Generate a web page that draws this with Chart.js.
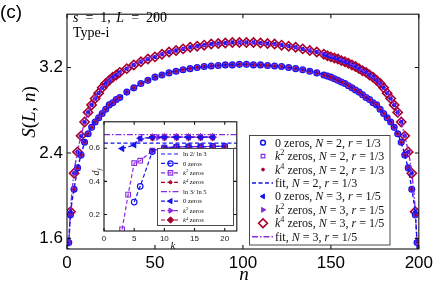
<!DOCTYPE html>
<html>
<head>
<meta charset="utf-8">
<script src="https://cdn.jsdelivr.net/npm/chart.js"></script>
<style>
  html, body { margin: 0; padding: 0; background: #fff; overflow: hidden; }
  #wrap { position: relative; width: 437px; height: 281px; }
  #main { position: absolute; left: 0; top: 0; }
  #inset { position: absolute; left: 80px; top: 113px; }
</style>
</head>
<body>
<div id="wrap">
  <canvas id="main" width="437" height="281"></canvas>
  <canvas id="inset" width="162" height="138"></canvas>
</div>
<script>
// ---- main panel data: S(L, n), L = 200 ----
const xTicks = [0, 50, 100, 150, 200];
const yTicks = [1.6, 2.4, 3.2];

// N = 2, r = 1/3 (lower curve)
const nN2 = [1, 2, 4, 6, 8, 10, 12, 14, 16, 18, 20, 22, 24, 26, 28, 30,
  34, 38, 42, 46, 50, 54, 58, 62, 66, 70, 74, 78, 82, 86, 90, 94, 98, 102, 106, 110, 114, 118, 122, 126, 130, 134, 138, 142, 146,
  148, 150, 152, 154, 156, 158, 160, 162, 164, 166, 168, 170, 172, 174, 176, 178, 180, 182, 184, 186, 188, 190, 192, 194, 196, 198, 199];
const sN2 = [1.56, 1.82, 2.06, 2.26, 2.38, 2.50, 2.58, 2.64, 2.69, 2.73, 2.77, 2.81, 2.85, 2.87, 2.90, 2.92,
  2.97, 3.01, 3.05, 3.08, 3.11, 3.13, 3.15, 3.165, 3.18, 3.19, 3.20, 3.21, 3.215, 3.22, 3.225, 3.225, 3.23, 3.23, 3.225, 3.225, 3.22, 3.215, 3.21, 3.20, 3.19, 3.18, 3.165, 3.15, 3.13,
  3.12, 3.11, 3.095, 3.08, 3.065, 3.05, 3.03, 3.01, 2.99, 2.97, 2.945, 2.92, 2.90, 2.87, 2.85, 2.81, 2.77, 2.73, 2.69, 2.64, 2.58, 2.50, 2.38, 2.26, 2.06, 1.82, 1.56];

// N = 3, r = 1/5 (upper curve)
const nN3 = [2, 4, 6, 8, 10, 12, 14, 16, 18, 20, 22, 24, 26, 28, 30,
  34, 38, 42, 46, 50, 54, 58, 62, 66, 70, 74, 78, 82, 86, 90, 94, 98, 102, 106, 110, 114, 118, 122, 126, 130, 134, 138, 142, 146,
  148, 150, 152, 154, 156, 158, 160, 162, 164, 166, 168, 170, 172, 174, 176, 178, 180, 182, 184, 186, 188, 190, 192, 194, 196, 198];
const sN3 = [1.85, 2.21, 2.41, 2.56, 2.69, 2.78, 2.85, 2.91, 2.96, 3.01, 3.05, 3.08, 3.11, 3.13, 3.155,
  3.19, 3.225, 3.255, 3.28, 3.30, 3.325, 3.345, 3.36, 3.375, 3.39, 3.40, 3.41, 3.42, 3.425, 3.43, 3.435, 3.435, 3.435, 3.435, 3.43, 3.425, 3.42, 3.41, 3.40, 3.39, 3.375, 3.36, 3.345, 3.325,
  3.31, 3.30, 3.29, 3.28, 3.265, 3.255, 3.24, 3.225, 3.21, 3.19, 3.17, 3.155, 3.13, 3.11, 3.08, 3.05, 3.01, 2.96, 2.91, 2.85, 2.78, 2.69, 2.56, 2.41, 2.21, 1.85];

// fitted curves
const fitN = [0.5, 1, 2, 4, 7, 12, 20, 35, 55, 80, 100, 120, 145, 165, 180, 188, 193, 196, 198, 199, 199.5];
const fitS2 = [1.35, 1.56, 1.82, 2.06, 2.32, 2.58, 2.77, 2.98, 3.14, 3.21, 3.23, 3.21, 3.14, 2.98, 2.77, 2.58, 2.32, 2.06, 1.82, 1.56, 1.35];
const fitS3 = [1.2, 1.5, 1.85, 2.21, 2.49, 2.78, 3.01, 3.20, 3.335, 3.41, 3.435, 3.41, 3.335, 3.20, 3.01, 2.78, 2.49, 2.21, 1.85, 1.5, 1.2];

// ---- inset data: d_f vs k ----
const kTicks = [0, 5, 10, 15, 20];
const dTicks = [0.2, 0.4, 0.6];
const ln2ln3 = 0.631;
const ln3ln5 = 0.683;
const kZero2 = [5, 6, 8, 10, 12, 14, 16, 18, 20];
const dZero2 = [0.275, 0.37, 0.58, 0.603, 0.608, 0.61, 0.61, 0.611, 0.611];
const kSq2 = [3, 4, 5, 6, 8, 10, 12, 14, 16, 18, 20];
const dSq2 = [0.11, 0.32, 0.51, 0.525, 0.585, 0.604, 0.608, 0.61, 0.61, 0.611, 0.611];
const kQu2 = [8, 10, 12, 14, 16, 18, 20];
const dQu2 = [0.585, 0.604, 0.608, 0.61, 0.61, 0.611, 0.611];
const kZero3 = [3, 5, 6, 8, 10, 12, 14, 16, 18];
const dZero3 = [0.598, 0.62, 0.66, 0.666, 0.667, 0.667, 0.667, 0.667, 0.667];
const kSq3 = [6, 9, 10, 12, 14, 16, 18];
const dSq3 = [0.655, 0.666, 0.667, 0.667, 0.667, 0.667, 0.667];
const kQu3 = [8, 10, 12, 14, 16, 18];
const dQu3 = [0.666, 0.667, 0.667, 0.667, 0.667, 0.667];

const BLUE = '#1414f0', PURPLE = '#8a2be2', RED = '#a8002a';
const SERIF = '"Liberation Serif", "Times New Roman", serif';
const SANS = '"Liberation Sans", Arial, sans-serif';
const DASH = [4, 2.5], DASHDOT = [6, 2, 1.5, 2];

const pts = (xs, ys) => xs.map((x, i) => ({ x: x, y: ys[i] }));

function drawMark(ctx, style, x, y, r, color, filled, lw) {
  ctx.save();
  ctx.setLineDash([]);
  ctx.beginPath();
  if (style === 'circle') {
    ctx.arc(x, y, r, 0, 2 * Math.PI);
  } else if (style === 'rect') {
    const h = r * Math.SQRT1_2;
    ctx.rect(x - h, y - h, 2 * h, 2 * h);
  } else if (style === 'rectRot') {
    ctx.moveTo(x, y - r); ctx.lineTo(x + r, y); ctx.lineTo(x, y + r); ctx.lineTo(x - r, y); ctx.closePath();
  } else if (style === 'triLeft' || style === 'triRight') {
    let a = (style === 'triLeft' ? 270 : 90) * Math.PI / 180;
    for (let i = 0; i < 3; i++) {
      const px = x + Math.sin(a) * r, py = y - Math.cos(a) * r;
      i ? ctx.lineTo(px, py) : ctx.moveTo(px, py);
      a += 2 * Math.PI / 3;
    }
    ctx.closePath();
  }
  if (filled) { ctx.fillStyle = color; ctx.fill(); }
  ctx.lineWidth = lw; ctx.strokeStyle = color; ctx.stroke();
  ctx.restore();
}

// text made of pieces: '' upright, 'i' italic, 'sup' superscript, 'sub' subscript; a number is a gap in px
function richWidth(ctx, parts, size) {
  let w = 0;
  for (const [t, st] of parts) {
    if (typeof t === 'number') { w += t; continue; }
    const sz = (st === 'sup' || st === 'sub') ? size * 0.68 : size;
    ctx.font = (st === 'i' || st === 'sub' ? 'italic ' : '') + sz + 'px ' + SERIF;
    w += ctx.measureText(t).width;
  }
  return w;
}
function richText(ctx, x, y, parts, size) {
  let cx = x;
  ctx.textAlign = 'left';
  ctx.textBaseline = 'alphabetic';
  for (const [t, st] of parts) {
    if (typeof t === 'number') { cx += t; continue; }
    const small = st === 'sup' || st === 'sub';
    const sz = small ? size * 0.68 : size;
    ctx.font = (st === 'i' || st === 'sub' ? 'italic ' : '') + sz + 'px ' + SERIF;
    const dy = st === 'sup' ? -size * 0.4 : (st === 'sub' ? size * 0.25 : 0);
    ctx.fillText(t, cx, y + dy);
    cx += ctx.measureText(t).width;
  }
  return cx;
}

function drawLegend(ctx, box, items, opt) {
  ctx.save();
  ctx.fillStyle = '#fff';
  ctx.fillRect(box.x, box.y, box.w, box.h);
  ctx.strokeStyle = '#4a4a4a'; ctx.lineWidth = 1;
  ctx.strokeRect(box.x, box.y, box.w, box.h);
  items.forEach((it, i) => {
    const y = opt.y0 + i * opt.dy;
    if (it.line) {
      ctx.save();
      ctx.strokeStyle = it.line.color; ctx.lineWidth = opt.lw;
      ctx.setLineDash(it.line.dash);
      ctx.beginPath(); ctx.moveTo(opt.lx0, y); ctx.lineTo(opt.lx1, y); ctx.stroke();
      ctx.restore();
    }
    if (it.mark) drawMark(ctx, it.mark, opt.mx, y, it.r, it.color, it.filled, it.lw);
    ctx.fillStyle = '#111';
    richText(ctx, opt.tx, y + opt.size * 0.33, it.parts, opt.size);
  });
  ctx.restore();
}

function frameTicks(ctx, a, xs, ys, xv, yv, len) {
  ctx.save();
  ctx.strokeStyle = '#111'; ctx.lineWidth = 1.1;
  ctx.strokeRect(a.left, a.top, a.right - a.left, a.bottom - a.top);
  ctx.beginPath();
  xv.forEach(v => {
    const p = xs.getPixelForValue(v);
    ctx.moveTo(p, a.bottom); ctx.lineTo(p, a.bottom - len);
    ctx.moveTo(p, a.top); ctx.lineTo(p, a.top + len);
  });
  yv.forEach(v => {
    const p = ys.getPixelForValue(v);
    ctx.moveTo(a.left, p); ctx.lineTo(a.left + len, p);
    ctx.moveTo(a.right, p); ctx.lineTo(a.right - len, p);
  });
  ctx.stroke();
  ctx.restore();
}

const N2 = [[' = 2, ', '']], N3 = [[' = 3, ', '']];
const r3 = [['r', 'i'], [' = 1/3', '']], r5 = [['r', 'i'], [' = 1/5', '']];
const mainLegend = [
  { mark: 'circle', r: 2.4, color: BLUE, filled: false, lw: 1.5, parts: [['0 zeros, ', ''], ['N', 'i'], ...N2, ...r3] },
  { mark: 'rect', r: 2.6, color: PURPLE, filled: false, lw: 1.2, parts: [['k', 'i'], ['2', 'sup'], [' zeros, ', ''], ['N', 'i'], ...N2, ...r3] },
  { mark: 'circle', r: 1.4, color: RED, filled: true, lw: 1, parts: [['k', 'i'], ['4', 'sup'], [' zeros, ', ''], ['N', 'i'], ...N2, ...r3] },
  { line: { color: BLUE, dash: DASH }, parts: [['fit, ', ''], ['N', 'i'], ...N2, ...r3] },
  { mark: 'triLeft', r: 2.8, color: BLUE, filled: true, lw: 1, parts: [['0 zeros, ', ''], ['N', 'i'], ...N3, ...r5] },
  { mark: 'triRight', r: 2.8, color: PURPLE, filled: true, lw: 1, parts: [['k', 'i'], ['2', 'sup'], [' zeros, ', ''], ['N', 'i'], ...N3, ...r5] },
  { mark: 'rectRot', r: 4.4, color: RED, filled: false, lw: 1.6, parts: [['k', 'i'], ['4', 'sup'], [' zeros, ', ''], ['N', 'i'], ...N3, ...r5] },
  { line: { color: PURPLE, dash: DASHDOT }, parts: [['fit, ', ''], ['N', 'i'], ...N3, ...r5] }
];

const mainDecor = {
  id: 'mainDecor',
  afterDraw(chart) {
    const { ctx, chartArea: a, scales } = chart;
    frameTicks(ctx, a, scales.x, scales.y, xTicks, yTicks, 4);
    ctx.save();
    ctx.fillStyle = '#000';
    ctx.font = '19px ' + SANS;
    ctx.textAlign = 'left'; ctx.textBaseline = 'middle';
    ctx.fillText('(c)', 0, 12.5);
    richText(ctx, 73, 21.5, [['s', 'i'], [3.5], [' = ', ''], [3.5], ['1, ', ''], [2], ['L', 'i'], [3.5], [' = ', ''], [3.5], ['200', '']], 14);
    richText(ctx, 73, 37, [['Type-i', '']], 14);
    // axis titles
    const yl = [['S', 'i'], ['(', ''], ['L', 'i'], [', ', ''], ['n', 'i'], [')', '']];
    ctx.save();
    ctx.translate(35, 112);
    ctx.rotate(-Math.PI / 2);
    richText(ctx, -richWidth(ctx, yl, 19) / 2, 0, yl, 19);
    ctx.restore();
    const xl = [['n', 'i']];
    richText(ctx, 244 - richWidth(ctx, xl, 19) / 2, 280, xl, 19);
    drawLegend(ctx, { x: 249.5, y: 135.5, w: 140.5, h: 109.5 }, mainLegend,
      { y0: 142.7, dy: 13.43, lx0: 252, lx1: 273, mx: 263, tx: 275, size: 12, lw: 1.5 });
    ctx.restore();
  }
};

const mk = (extra) => Object.assign({ showLine: false, pointBackgroundColor: 'rgba(0,0,0,0)' }, extra);

new Chart(document.getElementById('main'), {
  type: 'scatter',
  data: {
    datasets: [
      { label: 'fit, N = 2', data: pts(fitN, fitS2), showLine: true, pointRadius: 0, borderColor: BLUE, borderWidth: 1.4, borderDash: DASH, cubicInterpolationMode: 'monotone', order: 1 },
      { label: 'fit, N = 3', data: pts(fitN, fitS3), showLine: true, pointRadius: 0, borderColor: PURPLE, borderWidth: 1.4, borderDash: DASHDOT, cubicInterpolationMode: 'monotone', order: 2 },
      mk({ label: 'k4 zeros, N = 2', data: pts(nN2, sN2), pointStyle: 'circle', pointRadius: 1.3, pointBorderWidth: 1, pointBorderColor: RED, pointBackgroundColor: RED, order: 3 }),
      mk({ label: 'k2 zeros, N = 2', data: pts(nN2, sN2), pointStyle: 'rect', pointRadius: 2.4, pointBorderWidth: 1, pointBorderColor: PURPLE, order: 4 }),
      mk({ label: '0 zeros, N = 2', data: pts(nN2, sN2), pointStyle: 'circle', pointRadius: 2.7, pointBorderWidth: 1.7, pointBorderColor: BLUE, order: 5 }),
      mk({ label: '0 zeros, N = 3', data: pts(nN3, sN3), pointStyle: 'triangle', pointRotation: 270, pointRadius: 2.3, pointBorderWidth: 1, pointBorderColor: BLUE, pointBackgroundColor: BLUE, order: 3 }),
      mk({ label: 'k2 zeros, N = 3', data: pts(nN3, sN3), pointStyle: 'triangle', pointRotation: 90, pointRadius: 2.3, pointBorderWidth: 1, pointBorderColor: PURPLE, pointBackgroundColor: PURPLE, order: 4 }),
      mk({ label: 'k4 zeros, N = 3', data: pts(nN3, sN3), pointStyle: 'rectRot', pointRadius: 4.6, pointBorderWidth: 1.6, pointBorderColor: RED, order: 6 })
    ]
  },
  options: {
    responsive: false, animation: false, devicePixelRatio: 1,
    layout: { padding: { top: 7, right: 16, left: 0, bottom: 0 } },
    plugins: { legend: { display: false }, tooltip: { enabled: false } },
    scales: {
      x: {
        type: 'linear', min: 0, max: 200,
        afterBuildTicks: s => { s.ticks = xTicks.map(v => ({ value: v })); },
        afterFit: s => { s.height = 32; },
        grid: { display: false, drawTicks: false }, border: { display: false },
        ticks: { color: '#000', font: { family: SANS, size: 17 }, padding: 4, maxRotation: 0 }
      },
      y: {
        min: 1.5, max: 3.7,
        afterBuildTicks: s => { s.ticks = yTicks.map(v => ({ value: v })); },
        afterFit: s => { s.width = 67; },
        grid: { display: false, drawTicks: false }, border: { display: false },
        ticks: { color: '#000', font: { family: SANS, size: 17 }, padding: 4 }
      }
    }
  },
  plugins: [mainDecor]
});

// ---- inset ----
const insetLegend = [
  { line: { color: BLUE, dash: DASH }, parts: [['ln 2/ ln 3', '']] },
  { line: { color: BLUE, dash: DASH }, mark: 'circle', r: 2.6, color: BLUE, filled: false, lw: 1.2, parts: [['0 zeros', '']] },
  { line: { color: PURPLE, dash: DASH }, mark: 'rect', r: 3.2, color: PURPLE, filled: false, lw: 1.1, parts: [['k', 'i'], ['2', 'sup'], [' zeros', '']] },
  { line: { color: RED, dash: DASH }, mark: 'circle', r: 1.5, color: RED, filled: true, lw: 1, parts: [['k', 'i'], ['4', 'sup'], [' zeros', '']] },
  { line: { color: PURPLE, dash: DASHDOT }, parts: [['ln 3/ ln 5', '']] },
  { line: { color: BLUE, dash: DASH }, mark: 'triLeft', r: 3, color: BLUE, filled: true, lw: 1, parts: [['0 zeros', '']] },
  { line: { color: PURPLE, dash: DASH }, mark: 'triRight', r: 3, color: PURPLE, filled: true, lw: 1, parts: [['k', 'i'], ['2', 'sup'], [' zeros', '']] },
  { line: { color: RED, dash: DASH }, mark: 'rectRot', r: 3.2, color: RED, filled: true, lw: 1, parts: [['k', 'i'], ['4', 'sup'], [' zeros', '']] }
];

const insetDecor = {
  id: 'insetDecor',
  beforeDraw(chart) {
    const { ctx, chartArea: a } = chart;
    ctx.save(); ctx.fillStyle = '#fff';
    ctx.fillRect(a.left, a.top, a.right - a.left, a.bottom - a.top);
    ctx.restore();
  },
  afterDraw(chart) {
    const { ctx, chartArea: a, scales } = chart;
    frameTicks(ctx, a, scales.x, scales.y, kTicks, dTicks, 3);
    ctx.save();
    ctx.fillStyle = '#111';
    const kl = [['k', 'i']];
    richText(ctx, 93 - richWidth(ctx, kl, 11) / 2, 136, kl, 11);
    ctx.translate(19, 59);
    ctx.rotate(-Math.PI / 2);
    const dl = [['d', 'i'], ['f', 'sub']];
    richText(ctx, -richWidth(ctx, dl, 10) / 2, 0, dl, 10);
    ctx.restore();
    drawLegend(ctx, { x: 77.5, y: 35.5, w: 76, h: 77 }, insetLegend,
      { y0: 41, dy: 9.43, lx0: 81, lx1: 100, mx: 90.5, tx: 103, size: 6.6, lw: 1.2 });
  }
};

const line = (label, xs, ys, color, style, extra) => Object.assign({
  label: label, data: pts(xs, ys), showLine: true, borderColor: color, borderWidth: 1.2, borderDash: DASH,
  pointStyle: style, pointRadius: 2.6, pointBorderColor: color, pointBorderWidth: 1.2, pointBackgroundColor: 'rgba(0,0,0,0)'
}, extra);

new Chart(document.getElementById('inset'), {
  type: 'scatter',
  data: {
    datasets: [
      { label: 'ln 2/ln 3', data: [{ x: 0, y: ln2ln3 }, { x: 22, y: ln2ln3 }], showLine: true, pointRadius: 0, borderColor: BLUE, borderWidth: 1.2, borderDash: DASH },
      { label: 'ln 3/ln 5', data: [{ x: 0, y: ln3ln5 }, { x: 22, y: ln3ln5 }], showLine: true, pointRadius: 0, borderColor: PURPLE, borderWidth: 1.2, borderDash: DASHDOT },
      line('0 zeros N=2', kZero2, dZero2, BLUE, 'circle', { pointRadius: 2.8 }),
      line('k2 zeros N=2', kSq2, dSq2, PURPLE, 'rect', { pointRadius: 3.3, pointBorderWidth: 1.1 }),
      line('k4 zeros N=2', kQu2, dQu2, RED, 'circle', { pointRadius: 1.4, pointBackgroundColor: RED }),
      line('0 zeros N=3', kZero3, dZero3, BLUE, 'triangle', { pointRotation: 270, pointRadius: 3, pointBackgroundColor: BLUE }),
      line('k2 zeros N=3', kSq3, dSq3, PURPLE, 'triangle', { pointRotation: 90, pointRadius: 3, pointBackgroundColor: PURPLE }),
      line('k4 zeros N=3', kQu3, dQu3, RED, 'rectRot', { pointRadius: 3.3, pointBackgroundColor: RED })
    ]
  },
  options: {
    responsive: false, animation: false, devicePixelRatio: 1,
    layout: { padding: { top: 5, right: 3, left: 0, bottom: 0 } },
    plugins: { legend: { display: false }, tooltip: { enabled: false } },
    scales: {
      x: {
        type: 'linear', min: 0, max: 22,
        afterBuildTicks: s => { s.ticks = kTicks.map(v => ({ value: v })); },
        afterFit: s => { s.height = 20; },
        grid: { display: false, drawTicks: false }, border: { display: false },
        ticks: { color: '#222', font: { family: SANS, size: 8 }, padding: 3, maxRotation: 0 }
      },
      y: {
        min: 0.1, max: 0.76,
        afterBuildTicks: s => { s.ticks = dTicks.map(v => ({ value: v })); },
        afterFit: s => { s.width = 24; },
        grid: { display: false, drawTicks: false }, border: { display: false },
        ticks: { color: '#222', font: { family: SANS, size: 8 }, padding: 4 }
      }
    }
  },
  plugins: [insetDecor]
});
</script>
</body>
</html>
